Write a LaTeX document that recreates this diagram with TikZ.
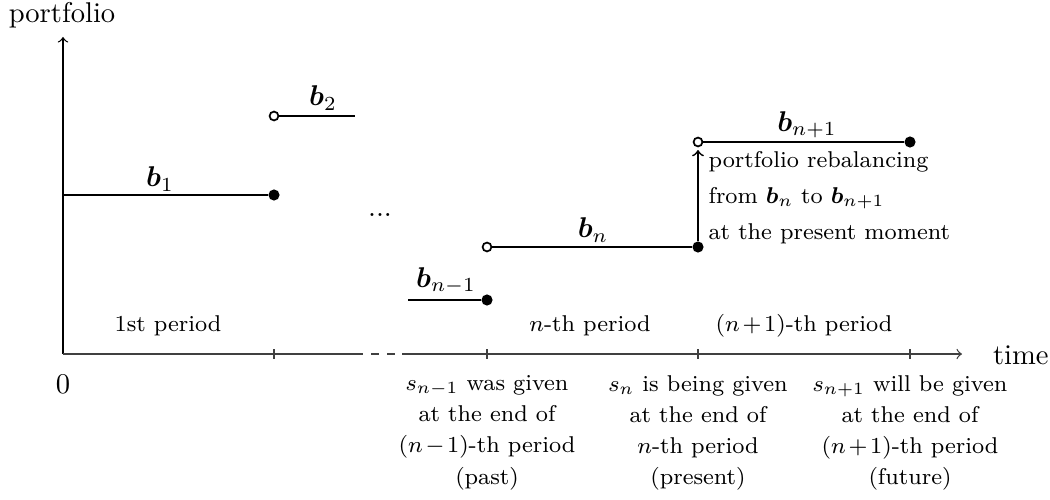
\documentclass[tikz,border=0pt]{standalone}
\usepackage{bm}
\usetikzlibrary{calc}
\newcommand{\notefont}{\footnotesize\medmuskip=2mu\relax}
\begin{document}
\begin{tikzpicture}[x=0.35pt,y=-0.35pt,
  axis/.style={draw=black!75, line width=0.45pt},
  seg/.style={draw=black, line width=0.6pt},
  fdot/.style={circle, fill=black, inner sep=0pt, minimum size=3.9pt},
  odot/.style={circle, draw=black, fill=white, line width=0.6pt, inner sep=0pt, minimum size=3.1pt},
  lab/.style={inner sep=0pt},
  small/.style={font=\notefont, inner sep=0pt},
  note/.style={font=\notefont, inner sep=0pt, align=center, anchor=north},
  tickmark/.style={draw=black!75, line width=0.45pt}
]
\useasboundingbox (0,0) rectangle (1050,499);

% axes
\coordinate (O) at (63,354);
\coordinate (ytop) at (63,37);
\coordinate (xa) at (363,354);
\coordinate (xb) at (402,354);
\coordinate (xend) at (962,354);
\draw[seg,line width=0.45pt,->] (O) -- (ytop);
\draw[axis] (O) -- (xa);
\draw[axis, dash pattern=on 2.8pt off 2.8pt, dash phase=2.8pt] (xa) -- (xb);
\draw[axis,->] (xb) -- (xend);

% ticks
\foreach \t/\x in {t1/274,t2/487,t3/698,t4/910}{
  \coordinate (\t) at (\x,354);
  \draw[tickmark] ($(\t)+(0,-5)$) -- ($(\t)+(0,5)$);
}

\node[lab] (ylab) at (62,15) {portfolio};
\node[anchor=west] (xlab) at (983,355) {time};
\node[lab] (zero) at (63,384) {0};

% segments
\coordinate (b1s) at (63,195);
\node[fdot] (b1e) at (274,195) {};
\node[odot] (b2s) at (274,116) {};
\coordinate (b2e) at (355,116);
\coordinate (bm1s) at (408,300);
\node[fdot] (bm1e) at (487,300) {};
\node[odot] (bns) at (487,247) {};
\node[fdot] (bne) at (698,247) {};
\node[odot] (bp1s) at (698,142) {};
\node[fdot] (bp1e) at (910,142) {};

\draw[seg] (b1s) -- (b1e);
\draw[seg] (b2s) -- (b2e);
\draw[seg] (bm1s) -- (bm1e);
\draw[seg] (bns) -- (bne);
\draw[seg] (bp1s) -- (bp1e);
\coordinate (arrtip) at (698,150);
\draw[seg,->] (bne) -- (arrtip);

% b labels
\node[lab] (L1) at (160,179) {$\bm{b}_1$};
\node[lab] (L2) at (323,98) {$\bm{b}_2$};
\node[lab] (Lm1) at (446,281) {$\bm{b}_{n-1}$};
\node[lab] (Ln) at (593,230) {$\bm{b}_n$};
\node[lab] (Lp1) at (807,125) {$\bm{b}_{n+1}$};
\node[lab] (dots) at (380,215) {...};

% period labels
\node[small] (P1) at (168,326) {1st period};
\node[small] (Pn) at (590,326) {$n$-th period};
\node[small] (Pp1) at (804,326) {$(n+1)$-th period};

% rebalancing note
\node[small, align=left, anchor=north west] (reb) at (708,151)
  {portfolio rebalancing\\[3.1pt] from $\bm{b}_n$ to $\bm{b}_{n+1}$\\[3.1pt] at the present moment};

% notes under axis
\node[note] (N1) at (487,375) {$s_{n-1}$ was given\\[1.4pt] at the end of\\[1.4pt] $(n-1)$-th period\\[1.4pt] (past)};
\node[note] (N2) at (698,375) {$s_{n}$ is being given\\[1.4pt] at the end of\\[1.4pt] $n$-th period\\[1.4pt] (present)};
\node[note] (N3) at (910,375) {$s_{n+1}$ will be given\\[1.4pt] at the end of\\[1.4pt] $(n+1)$-th period\\[1.4pt] (future)};
\end{tikzpicture}
\end{document}
